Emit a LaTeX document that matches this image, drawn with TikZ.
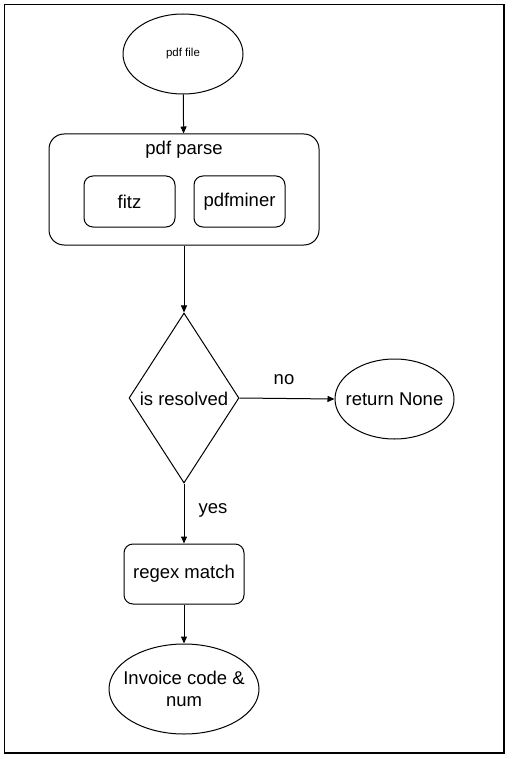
\documentclass[tikz,border=0pt]{standalone}
\usepackage{fontspec}
\setmainfont{Liberation Sans}
\usetikzlibrary{shapes.geometric,arrows.meta}
\begin{document}
\begin{tikzpicture}[x=1pt,y=-1pt,line width=1pt,
    txt/.style={font=\fontsize{18.5}{22}\selectfont},
    oval/.style={draw,ellipse,inner sep=0pt,txt,label={[txt,align=center]center:#1}},
    rbox/.style={draw,rounded corners=9pt,inner sep=0pt,txt},
    arr/.style={-{Triangle[length=7pt,width=6pt]}}]
    \useasboundingbox (0,0) rectangle (511,759);
    \draw[line width=1.4pt] (4.5,4.5) rectangle (504,753);

    \node[draw,ellipse,minimum width=120pt,minimum height=80pt,
      font=\fontsize{11.5}{14}\selectfont] (file) at (183,54) {pdf file};

    \node[draw,rounded corners=15pt,minimum width=270pt,minimum height=111pt] (parse) at (184,189.5) {};
    \node[txt] (parsetitle) at (184,150) {pdf parse};
    \node[rbox,minimum width=91pt,minimum height=51pt] (fitz) at (129.5,201.5) {fitz};
    \node[rbox,minimum width=91pt,minimum height=51pt] (miner) at (239.5,201.5) {pdfminer};

    \node[draw,diamond,aspect=0.647,inner sep=0pt,minimum width=110pt,minimum height=170pt,txt] (resolved) at (184,398) {};
    \node[txt] (resolvedtxt) at (184,399) {is resolved};
    \node[oval={return None},minimum width=119pt,minimum height=80pt] (none) at (394.5,399) {};

    \node[rbox,minimum width=120pt,minimum height=60pt] (regex) at (184,574) {regex match};
    \node[oval={Invoice code \&\\num},minimum width=150pt,minimum height=90pt] (invoice) at (184,689) {};

    \draw[arr] (file) -- (parse);
    \draw[arr] (parse) -- (resolved);
    \draw[arr] (resolved.east) -- (none.west);
    \draw[txt] (284,380) node {no};
    \draw[arr] (resolved.south) -- (regex.north);
    \draw[txt] (213,510) node {yes};
    \draw[arr] (regex) -- (invoice);
\end{tikzpicture}
\end{document}
